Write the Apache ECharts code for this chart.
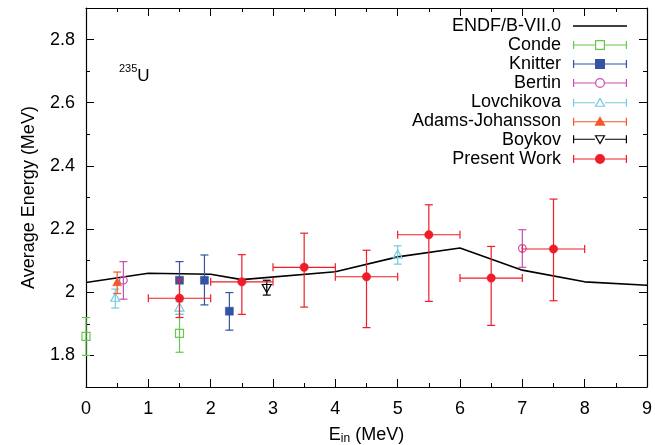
<!DOCTYPE html>
<html>
<head>
<meta charset="utf-8">
<script src="https://cdn.jsdelivr.net/npm/echarts@6/dist/echarts.min.js"></script>
<style>html,body{margin:0;padding:0;background:#fff}#c{width:655px;height:445px}</style>
</head>
<body>
<div id="c"></div>
<script>
// ENDF/B-VII.0 curve
const endfE = [0, 1, 2, 2.5, 4, 5, 6, 7, 8, 9];
const endfY = [2.031, 2.06, 2.057, 2.04, 2.065, 2.112, 2.14, 2.07, 2.033, 2.022];

// Conde
const condeE = [0, 1.5];
const condeY = [1.86, 1.87];
const condeLo = [1.80, 1.81];
const condeHi = [1.92, 1.93];

// Knitter
const knitterE = [1.5, 1.9, 2.3];
const knitterY = [2.038, 2.038, 1.94];
const knitterLo = [1.979, 1.96, 1.88];
const knitterHi = [2.097, 2.118, 1.999];

// Bertin
const bertinE = [0.6, 7.0];
const bertinY = [2.038, 2.139];
const bertinLo = [1.978, 2.079];
const bertinHi = [2.097, 2.198];

// Lovchikova
const lovE = [0.47, 1.5, 5.0];
const lovY = [1.981, 1.95, 2.118];
const lovLo = [1.95, 1.93, 2.089];
const lovHi = [2.01, 1.97, 2.147];

// Adams-Johansson
const adamsE = [0.5];
const adamsY = [2.03];
const adamsLo = [1.996];
const adamsHi = [2.064];

// Boykov
const boykovE = [2.9];
const boykovY = [2.015];
const boykovLo = [1.991];
const boykovHi = [2.038];

// Present Work
const presentE = [1.5, 2.5, 3.5, 4.5, 5.5, 6.5, 7.5];
const presentY = [1.981, 2.033, 2.079, 2.049, 2.182, 2.045, 2.137];
const presentLo = [1.92, 1.93, 1.953, 1.888, 1.971, 1.895, 1.973];
const presentHi = [2.04, 2.119, 2.187, 2.133, 2.277, 2.145, 2.295];
const presentXErr = [0.5, 0.5, 0.5, 0.5, 0.5, 0.5, 0.5];

// axis ticks
const yMajorTicks = [1.8, 2.0, 2.2, 2.4, 2.6, 2.8];

const FONT = 'Liberation Sans';

function build(E, Y, Lo, Hi, XE) {
  return E.map((e, i) => [e, Y[i], Lo[i], Hi[i], XE ? XE[i] : 0]);
}

function renderer(color, symbol, hollow) {
  return function (params, api) {
    const e = api.value(0), y = api.value(1), lo = api.value(2), hi = api.value(3), xe = api.value(4);
    const c = api.coord([e, y]);
    const pLo = api.coord([e, lo]);
    const pHi = api.coord([e, hi]);
    const cap = 4;
    const ls = { stroke: color, lineWidth: 1.2, fill: null };
    const ch = [];
    ch.push({ type: 'line', shape: { x1: c[0], y1: pLo[1], x2: c[0], y2: pHi[1] }, style: ls });
    ch.push({ type: 'line', shape: { x1: c[0] - cap, y1: pLo[1], x2: c[0] + cap, y2: pLo[1] }, style: ls });
    ch.push({ type: 'line', shape: { x1: c[0] - cap, y1: pHi[1], x2: c[0] + cap, y2: pHi[1] }, style: ls });
    if (xe > 0) {
      const pL = api.coord([e - xe, y]);
      const pR = api.coord([e + xe, y]);
      ch.push({ type: 'line', shape: { x1: pL[0], y1: c[1], x2: pR[0], y2: c[1] }, style: ls });
      ch.push({ type: 'line', shape: { x1: pL[0], y1: c[1] - cap, x2: pL[0], y2: c[1] + cap }, style: ls });
      ch.push({ type: 'line', shape: { x1: pR[0], y1: c[1] - cap, x2: pR[0], y2: c[1] + cap }, style: ls });
    }
    const ms = hollow ? { stroke: color, lineWidth: 1.2, fill: null } : { fill: color, stroke: color, lineWidth: 0.5 };
    const x = c[0], yy = c[1];
    if (symbol === 'square') {
      ch.push({ type: 'rect', shape: { x: x - 4, y: yy - 4, width: 8, height: 8 }, style: ms });
    } else if (symbol === 'circle') {
      ch.push({ type: 'circle', shape: { cx: x, cy: yy, r: hollow ? 3.8 : 4.2 }, style: ms });
    } else if (symbol === 'up') {
      ch.push({ type: 'polygon', shape: { points: [[x, yy - 5], [x + 4.5, yy + 3], [x - 4.5, yy + 3]] }, style: ms });
    } else if (symbol === 'down') {
      ch.push({ type: 'polygon', shape: { points: [[x, yy + 5], [x + 4.5, yy - 3], [x - 4.5, yy - 3]] }, style: ms });
    }
    if (hollow) {
      ch.push({ type: 'circle', shape: { cx: x, cy: yy, r: 0.6 }, style: { fill: color } });
    }
    return { type: 'group', children: ch };
  };
}

const COLORS = {
  endf: '#000000',
  conde: '#66c84e',
  knitter: '#3552a3',
  bertin: '#c64fb3',
  lov: '#74cbe0',
  adams: '#f2582a',
  boykov: '#000000',
  present: '#ee1d27'
};

// legend icon paths (54 x 12 box)
const barBase = 'M0,5.4h54v1.2h-54z M0,2h1.2v8h-1.2z M52.8,2h1.2v8h-1.2z ';
const barSplit = 'M0,5.4h22v1.2h-22z M32,5.4h22v1.2h-22z M0,2h1.2v8h-1.2z M52.8,2h1.2v8h-1.2z ';
const icons = {
  conde: 'path://' + barSplit + 'M22,1h10v10h-10z M23.2,2.2v7.6h7.6v-7.6z',
  knitter: 'path://' + barBase + 'M22,1h10v10h-10z',
  bertin: 'path://' + barSplit + 'M22,6a5,5 0 1,1 10,0a5,5 0 1,1 -10,0z M23.2,6a3.8,3.8 0 1,0 7.6,0a3.8,3.8 0 1,0 -7.6,0z',
  lov: 'path://' + barSplit + 'M27,0.5l5.5,9.5h-11z M27,3l-3.5,6h7z',
  adams: 'path://' + barBase + 'M27,0.5l5.5,9.5h-11z',
  boykov: 'path://' + barSplit + 'M27,11.5l5.5,-9.5h-11z M27,9l-3.5,-6h7z',
  present: 'path://' + barBase + 'M27,6m-5,0a5,5 0 1,1 10,0a5,5 0 1,1 -10,0z'
};

const chart = echarts.init(document.getElementById('c'), null, { renderer: 'canvas' });

const axisLineStyle = { color: '#000', width: 1.2 };
const xBase = { type: 'value', min: 0, max: 9, interval: 1 };
const yBase = { type: 'value', min: 1.7, max: 2.9 };

const option = {
  animation: false,
  backgroundColor: '#fff',
  textStyle: { fontFamily: FONT },
  grid: { left: 86, right: 8, top: 8, bottom: 58, containLabel: false, outerBoundsMode: 'none' },
  title: {
    text: '{s|235}{b|U}',
    left: 114, top: 58,
    textStyle: {
      fontWeight: 'normal',
      rich: {
        s: { fontFamily: FONT, fontSize: 11, fontWeight: 'normal', color: '#000', verticalAlign: 'top', padding: [0, 0, 6, 0] },
        b: { fontFamily: FONT, fontSize: 17, fontWeight: 'normal', color: '#000', padding: [5, 0, 0, 0] }
      }
    }
  },
  legend: {
    orient: 'vertical',
    right: 28, top: 17,
    align: 'right',
    padding: 0,
    itemWidth: 54, itemHeight: 12,
    itemGap: 1,
    selectedMode: false,
    textStyle: { fontFamily: FONT, fontSize: 18, color: '#000', lineHeight: 18, padding: [0, 7, 0, 0] },
    data: [
      { name: 'ENDF/B-VII.0', icon: 'path://M0,5.3h54v1.4h-54z', itemStyle: { color: COLORS.endf } },
      { name: 'Conde', icon: icons.conde, itemStyle: { color: COLORS.conde } },
      { name: 'Knitter', icon: icons.knitter, itemStyle: { color: COLORS.knitter } },
      { name: 'Bertin', icon: icons.bertin, itemStyle: { color: COLORS.bertin } },
      { name: 'Lovchikova', icon: icons.lov, itemStyle: { color: COLORS.lov } },
      { name: 'Adams-Johansson', icon: icons.adams, itemStyle: { color: COLORS.adams } },
      { name: 'Boykov', icon: icons.boykov, itemStyle: { color: COLORS.boykov } },
      { name: 'Present Work', icon: icons.present, itemStyle: { color: COLORS.present } }
    ]
  },
  xAxis: [
    Object.assign({}, xBase, {
      position: 'bottom',
      name: '{a|E}{s|in}{a| (MeV)}',
      nameLocation: 'middle',
      nameGap: 38,
      nameTextStyle: {
        rich: {
          a: { fontFamily: FONT, fontSize: 18, color: '#000' },
          s: { fontFamily: FONT, fontSize: 12, color: '#000', verticalAlign: 'bottom', padding: [8, 0, 0, 0] }
        }
      },
      axisLine: { show: true, lineStyle: axisLineStyle },
      axisTick: { show: true, inside: true, length: 8, lineStyle: { color: '#000' } },
      minorTick: { show: true, splitNumber: 2, length: 4, lineStyle: { color: '#000' } },
      axisLabel: { show: true, margin: 13, fontFamily: FONT, fontSize: 18, color: '#000', showMinLabel: true, showMaxLabel: true },
      splitLine: { show: false }
    }),
    Object.assign({}, xBase, {
      position: 'top',
      axisLine: { show: true, lineStyle: axisLineStyle },
      axisTick: { show: true, inside: true, length: 8, lineStyle: { color: '#000' } },
      minorTick: { show: true, splitNumber: 2, length: 4, lineStyle: { color: '#000' } },
      axisLabel: { show: false },
      splitLine: { show: false }
    })
  ],
  yAxis: [
    Object.assign({}, yBase, {
      position: 'left',
      name: 'Average Energy (MeV)',
      nameLocation: 'middle',
      nameGap: 48,
      nameTextStyle: { fontFamily: FONT, fontSize: 18, color: '#000' },
      axisLine: { show: true, lineStyle: axisLineStyle },
      axisTick: { show: true, inside: true, length: 8, customValues: yMajorTicks, lineStyle: { color: '#000' } },
      axisLabel: {
        show: true, margin: 11, fontFamily: FONT, fontSize: 18, color: '#000',
        customValues: yMajorTicks,
        formatter: v => String(Math.round(v * 10) / 10)
      },
      splitLine: { show: false }
    }),
    Object.assign({}, yBase, {
      position: 'left',
      interval: 0.1,
      axisLine: { show: false },
      axisTick: { show: true, inside: true, length: 4, lineStyle: { color: '#000' } },
      axisLabel: { show: false },
      splitLine: { show: false }
    }),
    Object.assign({}, yBase, {
      position: 'right',
      axisLine: { show: true, lineStyle: axisLineStyle },
      axisTick: { show: true, inside: true, length: 8, customValues: yMajorTicks, lineStyle: { color: '#000' } },
      axisLabel: { show: false },
      splitLine: { show: false }
    }),
    Object.assign({}, yBase, {
      position: 'right',
      interval: 0.1,
      axisLine: { show: false },
      axisTick: { show: true, inside: true, length: 4, lineStyle: { color: '#000' } },
      axisLabel: { show: false },
      splitLine: { show: false }
    })
  ],
  series: [
    {
      name: 'ENDF/B-VII.0', type: 'line', xAxisIndex: 0, yAxisIndex: 0,
      data: endfE.map((e, i) => [e, endfY[i]]),
      showSymbol: false, symbol: 'none',
      lineStyle: { color: COLORS.endf, width: 1.6 },
      itemStyle: { color: COLORS.endf },
      z: 2
    },
    { name: 'Conde', type: 'custom', xAxisIndex: 0, yAxisIndex: 0, renderItem: renderer(COLORS.conde, 'square', true), data: build(condeE, condeY, condeLo, condeHi), encode: { x: 0, y: 1 }, itemStyle: { color: COLORS.conde }, z: 3 },
    { name: 'Knitter', type: 'custom', xAxisIndex: 0, yAxisIndex: 0, renderItem: renderer(COLORS.knitter, 'square', false), data: build(knitterE, knitterY, knitterLo, knitterHi), encode: { x: 0, y: 1 }, itemStyle: { color: COLORS.knitter }, z: 3 },
    { name: 'Bertin', type: 'custom', xAxisIndex: 0, yAxisIndex: 0, renderItem: renderer(COLORS.bertin, 'circle', true), data: build(bertinE, bertinY, bertinLo, bertinHi), encode: { x: 0, y: 1 }, itemStyle: { color: COLORS.bertin }, z: 3 },
    { name: 'Lovchikova', type: 'custom', xAxisIndex: 0, yAxisIndex: 0, renderItem: renderer(COLORS.lov, 'up', true), data: build(lovE, lovY, lovLo, lovHi), encode: { x: 0, y: 1 }, itemStyle: { color: COLORS.lov }, z: 3 },
    { name: 'Adams-Johansson', type: 'custom', xAxisIndex: 0, yAxisIndex: 0, renderItem: renderer(COLORS.adams, 'up', false), data: build(adamsE, adamsY, adamsLo, adamsHi), encode: { x: 0, y: 1 }, itemStyle: { color: COLORS.adams }, z: 3 },
    { name: 'Boykov', type: 'custom', xAxisIndex: 0, yAxisIndex: 0, renderItem: renderer(COLORS.boykov, 'down', true), data: build(boykovE, boykovY, boykovLo, boykovHi), encode: { x: 0, y: 1 }, itemStyle: { color: COLORS.boykov }, z: 3 },
    { name: 'Present Work', type: 'custom', xAxisIndex: 0, yAxisIndex: 0, renderItem: renderer(COLORS.present, 'circle', false), data: build(presentE, presentY, presentLo, presentHi, presentXErr), encode: { x: 0, y: 1 }, itemStyle: { color: COLORS.present }, z: 4 }
  ]
};

chart.setOption(option);
</script>
</body>
</html>
